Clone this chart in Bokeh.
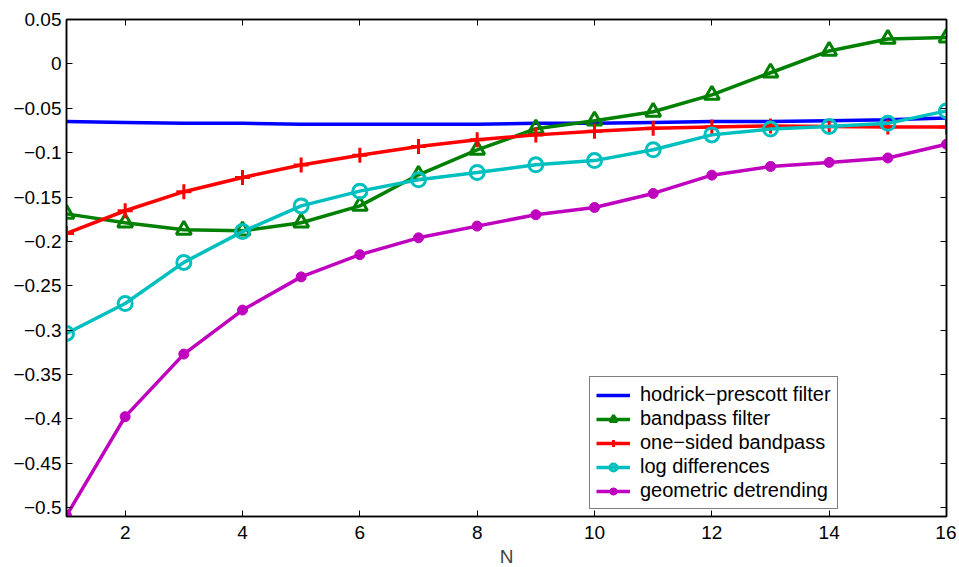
from bokeh.plotting import figure
from bokeh.models import LinearAxis, FixedTicker, Range1d, Legend
from bokeh.embed import file_html
from bokeh.resources import INLINE

N = list(range(1, 17))
hodrick_prescott = [-0.065, -0.066, -0.067, -0.067, -0.068, -0.068, -0.068, -0.068,
                    -0.067, -0.067, -0.066, -0.065, -0.065, -0.064, -0.063, -0.061]
bandpass = [-0.169, -0.179, -0.187, -0.188, -0.179, -0.160, -0.125, -0.097,
            -0.073, -0.064, -0.054, -0.035, -0.010, 0.0146, 0.028, 0.0296]
one_sided = [-0.191, -0.1655, -0.144, -0.128, -0.114, -0.103, -0.093, -0.0856,
             -0.080, -0.076, -0.0724, -0.071, -0.070, -0.0705, -0.071, -0.071]
log_diff = [-0.3037, -0.270, -0.2237, -0.189, -0.160, -0.1434, -0.1306, -0.1224,
            -0.1137, -0.109, -0.0968, -0.080, -0.0735, -0.0706, -0.067, -0.053]
geometric = [-0.509, -0.3975, -0.327, -0.2774, -0.240, -0.215, -0.196, -0.1828,
             -0.170, -0.1618, -0.146, -0.1254, -0.1156, -0.111, -0.106, -0.0905]

x_ticks = [2, 4, 6, 8, 10, 12, 14, 16]
y_ticks = [0.05, 0, -0.05, -0.1, -0.15, -0.2, -0.25, -0.3, -0.35, -0.4, -0.45, -0.5]
y_tick_labels = ["0.05", "0", "\u22120.05", "\u22120.1", "\u22120.15", "\u22120.2", "\u22120.25",
                 "\u22120.3", "\u22120.35", "\u22120.4", "\u22120.45", "\u22120.5"]

FONT = "Liberation Sans"

p = figure(output_backend="svg", toolbar_location=None,
           frame_width=880, frame_height=497,
           min_border_left=66, min_border_top=19, min_border_right=10, min_border_bottom=50,
           x_range=Range1d(1, 16), y_range=Range1d(-0.51, 0.05))
p.xgrid.visible = False
p.ygrid.visible = False
p.outline_line_color = "black"
p.outline_line_width = 1.5
p.background_fill_color = "white"
p.border_fill_color = "white"

def style_axis(ax):
    ax.major_tick_in = 6
    ax.major_tick_out = 0
    ax.minor_tick_in = 0
    ax.minor_tick_out = 0
    ax.axis_line_color = "black"
    ax.axis_line_width = 1.5
    ax.major_tick_line_color = "black"
    ax.major_label_text_font = FONT
    ax.major_label_text_font_size = "19px"
    ax.major_label_text_color = "black"
    ax.major_label_standoff = 5

xax = p.xaxis[0]
xax.ticker = FixedTicker(ticks=x_ticks)
style_axis(xax)
xax.major_label_standoff = 9
xax.axis_label = "N"
xax.axis_label_text_font = FONT
xax.axis_label_text_font_size = "19px"
xax.axis_label_text_font_style = "normal"
xax.axis_label_standoff = 4

yax = p.yaxis[0]
yax.ticker = FixedTicker(ticks=y_ticks)
yax.major_label_overrides = {t: l for t, l in zip(y_ticks, y_tick_labels)}
style_axis(yax)

top = LinearAxis(ticker=FixedTicker(ticks=x_ticks))
style_axis(top)
top.major_label_overrides = {t: "" for t in x_ticks}
p.add_layout(top, "above")
right = LinearAxis(ticker=FixedTicker(ticks=y_ticks))
style_axis(right)
right.major_label_overrides = {t: "" for t in y_ticks}
p.add_layout(right, "right")

lw = 3.5
r_hp = p.line(N, hodrick_prescott, line_color="#0000ff", line_width=lw)

r_bp_l = p.line(N, bandpass, line_color="#008000", line_width=lw)
r_bp_m = p.scatter(N, bandpass, marker="triangle", size=15, line_color="#008000",
                   line_width=3, fill_alpha=0)

r_os_l = p.line(N, one_sided, line_color="#ff0000", line_width=lw)
r_os_m = p.scatter(N, one_sided, marker="cross", size=15, line_color="#ff0000", line_width=3)

r_ld_l = p.line(N, log_diff, line_color="#00bfbf", line_width=lw)
r_ld_m = p.scatter(N, log_diff, marker="circle", size=14, line_color="#00bfbf",
                   line_width=3, fill_alpha=0)

r_gd_l = p.line(N, geometric, line_color="#bf00bf", line_width=lw)
r_gd_m = p.scatter(N, geometric, marker="circle", size=10, line_color="#bf00bf",
                   fill_color="#bf00bf", line_width=1)

legend = Legend(items=[
    ("hodrick\u2212prescott filter", [r_hp]),
    ("bandpass filter", [r_bp_l, r_bp_m]),
    ("one\u2212sided bandpass", [r_os_l, r_os_m]),
    ("log differences", [r_ld_l, r_ld_m]),
    ("geometric detrending", [r_gd_l, r_gd_m]),
], location=(523, 7))
legend.label_text_font = FONT
legend.label_text_font_size = "20px"
legend.label_text_color = "black"
legend.glyph_width = 34
legend.glyph_height = 18
legend.label_height = 18
legend.spacing = 1
legend.padding = 6
legend.margin = 0
legend.label_standoff = 10
legend.border_line_color = "black"
legend.border_line_width = 1.2
legend.background_fill_alpha = 1
p.add_layout(legend, "center")

open("out.html", "w").write(file_html(p, INLINE))
